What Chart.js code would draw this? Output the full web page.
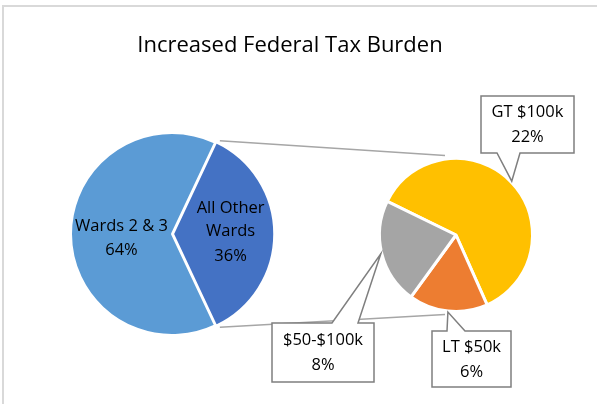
<!DOCTYPE html>
<html lang="en">
<head>
<meta charset="UTF-8">
<title>Increased Federal Tax Burden</title>
<script src="https://cdn.jsdelivr.net/npm/chart.js"></script>
<style>
  html, body { margin: 0; padding: 0; background: #fff; }
  #wrap { position: relative; width: 597px; height: 404px; overflow: hidden; }
  #frame { position: absolute; left: 2px; top: 5px; width: 640px; height: 460px; border: 2px solid #d9d9d9; box-sizing: border-box; }
  canvas { position: absolute; left: 0; top: 0; }
</style>
</head>
<body>
<div id="wrap">
  <div id="frame"></div>
  <canvas id="mainPie" width="597" height="404"></canvas>
  <canvas id="subPie" width="597" height="404"></canvas>
</div>
<script>
// main pie: all wards
const mainLabels = ["All Other Wards", "Wards 2 & 3"];
const mainValues = [36, 64];
const mainColors = ["#4472C4", "#5B9BD5"];
// secondary pie: breakdown of "All Other Wards"
const subLabels = ["GT $100k", "LT $50k", "$50-$100k"];
const subValues = [22, 6, 8];
const subColors = ["#FFC000", "#ED7D31", "#A5A5A5"];

const titleText = "Increased Federal Tax Burden";
const font = "'Open Sans', 'Liberation Sans', sans-serif";

// callout boxes for the secondary pie (box left/top/width/height)
const callouts = [
  { x: 481, y: 96, w: 93, h: 57, base: [497, 520] },
  { x: 432, y: 331, w: 79, h: 56, base: [447, 465] },
  { x: 272, y: 323, w: 102, h: 59, base: [332, 358] }
];

function pct(v) { return v + "%"; }

let mainChart;

const mainLabelPlugin = {
  id: "mainLabels",
  afterDatasetsDraw(chart) {
    const ctx = chart.ctx;
    const arcs = chart.getDatasetMeta(0).data;
    ctx.save();
    ctx.fillStyle = "#000";
    ctx.textAlign = "center";
    ctx.textBaseline = "middle";
    // title
    ctx.font = "22px " + font;
    ctx.fillText(titleText, 290, 46);
    ctx.font = "16.5px " + font;
    // "All Other Wards" inside its slice
    let a = arcs[0], mid = (a.startAngle + a.endAngle) / 2;
    let px = a.x + Math.cos(mid) * a.outerRadius * 0.58;
    let py = a.y + Math.sin(mid) * a.outerRadius * 0.58;
    ctx.fillText("All Other", px, py - 26);
    ctx.fillText("Wards", px, py - 3);
    ctx.fillText(pct(mainValues[0]), px, py + 22);
    // "Wards 2 & 3"
    a = arcs[1]; mid = (a.startAngle + a.endAngle) / 2;
    px = a.x + Math.cos(mid) * a.outerRadius * 0.5;
    py = a.y + Math.sin(mid) * a.outerRadius * 0.5;
    ctx.fillText("Wards 2 & 3", px, py - 8);
    ctx.fillText(pct(mainValues[1]), px, py + 16);
    ctx.restore();
  }
};

mainChart = new Chart(document.getElementById("mainPie"), {
  type: "pie",
  data: {
    labels: mainLabels,
    datasets: [{
      data: mainValues,
      backgroundColor: mainColors,
      borderColor: "#fff",
      borderWidth: 2,
      offset: [4, 0]
    }]
  },
  options: {
    responsive: false,
    animation: false,
    rotation: 25.2,
    layout: { padding: { left: 68, right: 321, top: 130, bottom: 66 } },
    plugins: { legend: { display: false }, tooltip: { enabled: false } }
  },
  plugins: [mainLabelPlugin]
});

const connectorPlugin = {
  id: "connectors",
  beforeDatasetsDraw(chart) {
    // lines from the "other" slice of the main pie to the secondary pie
    const ctx = chart.ctx;
    const o = mainChart.getDatasetMeta(0).data[0];
    const s = chart.getDatasetMeta(0).data[0];
    const r = o.outerRadius + 2;
    const ox = o.x + 4;
    ctx.save();
    ctx.strokeStyle = "#a6a6a6";
    ctx.lineWidth = 1.5;
    ctx.beginPath();
    ctx.moveTo(ox + Math.cos(o.startAngle) * r, o.y + Math.sin(o.startAngle) * r);
    ctx.lineTo(s.x - 11, s.y - s.outerRadius - 3);
    ctx.moveTo(ox + Math.cos(o.endAngle) * r, o.y + Math.sin(o.endAngle) * r);
    ctx.lineTo(s.x - 11, s.y + s.outerRadius + 3);
    ctx.stroke();
    ctx.restore();
  },
  afterDatasetsDraw(chart) {
    const ctx = chart.ctx;
    const arcs = chart.getDatasetMeta(0).data;
    ctx.save();
    ctx.font = "16.5px " + font;
    ctx.textAlign = "center";
    ctx.textBaseline = "middle";
    callouts.forEach((c, i) => {
      const a = arcs[i];
      const mid = (a.startAngle + a.endAngle) / 2;
      const tx = a.x + Math.cos(mid) * (a.outerRadius + 1);
      const ty = a.y + Math.sin(mid) * (a.outerRadius + 1);
      const below = ty > c.y + c.h;
      const ey = below ? c.y + c.h : c.y;
      ctx.beginPath();
      if (below) {
        ctx.moveTo(c.x, c.y);
        ctx.lineTo(c.x + c.w, c.y);
        ctx.lineTo(c.x + c.w, c.y + c.h);
        ctx.lineTo(c.base[1], ey);
        ctx.lineTo(tx, ty);
        ctx.lineTo(c.base[0], ey);
        ctx.lineTo(c.x, c.y + c.h);
      } else {
        ctx.moveTo(c.x, c.y);
        ctx.lineTo(c.base[0], ey);
        ctx.lineTo(tx, ty);
        ctx.lineTo(c.base[1], ey);
        ctx.lineTo(c.x + c.w, c.y);
        ctx.lineTo(c.x + c.w, c.y + c.h);
        ctx.lineTo(c.x, c.y + c.h);
      }
      ctx.closePath();
      ctx.fillStyle = "#fff";
      ctx.fill();
      ctx.strokeStyle = "#7f7f7f";
      ctx.lineWidth = 1.5;
      ctx.stroke();
      ctx.fillStyle = "#000";
      ctx.fillText(subLabels[i], c.x + c.w / 2, c.y + c.h / 2 - 12);
      ctx.fillText(pct(subValues[i]), c.x + c.w / 2, c.y + c.h / 2 + 13);
    });
    ctx.restore();
  }
};

new Chart(document.getElementById("subPie"), {
  type: "pie",
  data: {
    labels: subLabels,
    datasets: [{
      data: subValues,
      backgroundColor: subColors,
      borderColor: "#fff",
      borderWidth: 3
    }]
  },
  options: {
    responsive: false,
    animation: false,
    rotation: -64,
    layout: { padding: { left: 378, right: 63, top: 157, bottom: 91 } },
    plugins: { legend: { display: false }, tooltip: { enabled: false } }
  },
  plugins: [connectorPlugin]
});
</script>
</body>
</html>
